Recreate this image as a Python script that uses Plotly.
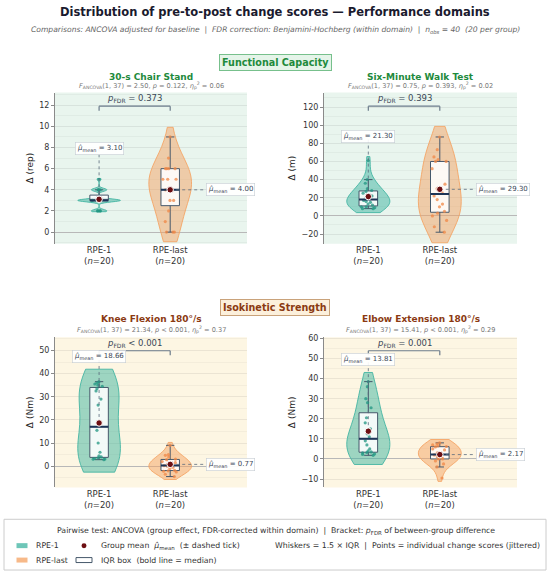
import numpy as np
import plotly.graph_objects as go

W, H = 550, 573

groups = ["RPE-1", "RPE-last"]
n_per_group = [20, 20]

# change scores (post - pre), one list per outcome and group
chair_rpe1 = [2, 2, 2, 2, 3, 3, 3, 3, 3, 3, 3, 3, 3, 3, 3, 4, 4, 4, 4, 5]
chair_rpelast = [0, 0, 0, 1, 2, 3, 3, 4, 4, 4, 4, 5, 5, 5, 6, 6, 6, 6, 7, 9]
walk_rpe1 = [8, 8, 9, 10, 10, 12, 13, 15, 16, 17, 19, 20, 22, 25, 27, 28, 30, 36, 40, 61]
walk_rpelast = [-18, -12, -5, 0, 3, 5, 10, 13, 18, 22, 26, 30, 35, 52, 60, 60, 62, 65, 73, 87]
knee_rpe1 = [2.8, 3.0, 3.1, 3.3, 3.6, 4.0, 4.5, 6.0, 10.0, 15.5, 18.5, 26.4, 29.0, 32.5,
             33.5, 34.5, 35.0, 35.5, 36.0, 36.5]
knee_rpelast = [-4.5, -3.5, -2.5, -2.2, -2.0, -1.8, -1.0, -0.5, 0.0, 0.2, 0.4, 0.8, 1.5, 2.0,
                2.8, 3.0, 4.0, 4.7, 5.0, 9.0]
elbow_rpe1 = [1.8, 2.2, 2.5, 3.0, 3.2, 3.5, 4.0, 5.0, 7.0, 9.0, 11.0, 12.5, 15.0, 18.0,
              20.5, 25.5, 28.0, 30.0, 36.0, 38.5]
elbow_rpelast = [-9.5, -4.0, -2.5, -1.0, 0.0, 0.0, 0.5, 0.8, 1.0, 2.0, 2.4, 3.0, 4.5, 5.0,
                 6.0, 6.2, 6.5, 7.0, 7.5, 8.0]

outcomes = ["30-s Chair Stand", "Six-Minute Walk Test", "Knee Flexion 180°/s", "Elbow Extension 180°/s"]
units = ["rep", "m", "Nm", "Nm"]
f_values = [2.50, 0.75, 21.34, 15.41]
p_values = ["= 0.122", "= 0.393", "< 0.001", "< 0.001"]
eta_p2 = [0.06, 0.02, 0.37, 0.29]
p_fdr = ["= 0.373", "= 0.393", "< 0.001", "= 0.001"]
domains = ["Functional Capacity", "Isokinetic Strength"]

data = [
    [chair_rpe1, chair_rpelast],
    [walk_rpe1, walk_rpelast],
    [knee_rpe1, knee_rpelast],
    [elbow_rpe1, elbow_rpelast],
]

# axis settings per panel
ylims = [(-1.1, 13.2), (-30.7, 136), (-9.2, 55.7), (-14.2, 60.6)]
dticks = [2, 20, 10, 10]
label_frac = [0.63, 0.71, 0.87, 0.85]   # height of the RPE-1 mean label in the panel

# styles
violin_fill = ["rgba(61,179,160,0.5)", "rgba(244,162,97,0.5)"]
violin_line = ["rgba(61,179,160,0.85)", "rgba(244,162,97,0.85)"]
point_col = ["rgba(32,150,130,0.75)", "rgba(240,135,70,0.75)"]
box_line = "#46586b"
median_col = "#1d3557"
mean_col = "#6d0f12"
label_col = "#3a4656"
panel_bg = ["#e9f5ee", "#fdf6e3"]
title_col = ["#1e8a3c", "#8b3a12"]
dom_bg = ["#e5f4e9", "#fcf0dc"]
dom_border = ["#77c08c", "#c9a27a"]
FONT = "DejaVu Sans"

col_px = [(55, 247), (324, 517)]
row_px = [(90, 242), (336, 487)]
title_px = [74, 318]
stat_px = [83, 328]
dom_px = [60, 306]


def px(p):
    return p / W


def py(p):
    return 1 - p / H


def kde_bw(vals):
    # silverman bandwidth (falls back to sd when the IQR is zero), a bit smoothed
    v = np.asarray(vals, dtype=float)
    iqr = np.percentile(v, 75) - np.percentile(v, 25)
    s = np.std(v, ddof=1)
    a = min(s, iqr / 1.349) if iqr > 0 else s
    return 1.3 * 1.059 * a * len(v) ** -0.2


fig = go.Figure()
layout = {}
shapes = []
annotations = []

for k in range(4):
    r, c = k // 2, k % 2
    xa = "x" if k == 0 else f"x{k + 1}"
    ya = "y" if k == 0 else f"y{k + 1}"
    xname = "xaxis" if k == 0 else f"xaxis{k + 1}"
    yname = "yaxis" if k == 0 else f"yaxis{k + 1}"
    lo, hi = ylims[k]

    layout[xname] = dict(domain=[px(col_px[c][0]), px(col_px[c][1])], range=[-0.62, 2.08],
                         anchor=ya, tickvals=[0, 1],
                         ticktext=[f"{g}<br>(<i>n</i>={n})" for g, n in zip(groups, n_per_group)],
                         showgrid=False, zeroline=False, showline=False, ticks="",
                         tickfont=dict(size=8.5, color="#333"))
    layout[yname] = dict(domain=[py(row_px[r][1]), py(row_px[r][0])], range=[lo, hi],
                         anchor=xa, dtick=dticks[k], showgrid=True, gridcolor="rgba(0,0,0,0.07)",
                         minor=dict(dtick=dticks[k] / 2, showgrid=True, gridcolor="rgba(0,0,0,0.035)"),
                         zeroline=True, zerolinecolor="#b8b8b8", zerolinewidth=1,
                         showline=True, linecolor="#8a8a8a", ticks="outside", ticklen=3,
                         tickcolor="#8a8a8a", tickfont=dict(size=8, color="#333"),
                         title=dict(text=f"Δ ({units[k]})", font=dict(size=9, color="#222"), standoff=4))

    # panel background
    shapes.append(dict(type="rect", xref=f"{xa} domain", yref=f"{ya} domain", x0=0, x1=1, y0=0, y1=1,
                       fillcolor=panel_bg[r], line=dict(width=0), layer="below"))

    for i in range(2):
        vals = data[k][i]
        bw = kde_bw(vals)
        fig.add_trace(go.Violin(x0=i, y=vals, xaxis=xa, yaxis=ya, width=0.6, bandwidth=bw,
                                spanmode="manual", span=[min(vals) - 0.5 * bw, max(vals) + 0.5 * bw],
                                fillcolor=violin_fill[i], line=dict(color=violin_line[i], width=1),
                                points=False, box_visible=False, meanline_visible=False,
                                showlegend=False, hoverinfo="skip"))
        fig.add_trace(go.Box(x0=i, y=vals, xaxis=xa, yaxis=ya, width=0.26,
                             fillcolor="rgba(255,255,255,0.88)", line=dict(color=box_line, width=1),
                             whiskerwidth=0.45, boxpoints="all", jitter=1.0, pointpos=0,
                             marker=dict(size=3.2, color=point_col[i]), showlegend=False))
        med = float(np.median(vals))
        fig.add_trace(go.Scatter(x=[i - 0.13, i + 0.13], y=[med, med], xaxis=xa, yaxis=ya,
                                 mode="lines", line=dict(color=median_col, width=2), showlegend=False))

        mean = float(np.mean(vals))
        label = f"<i>μ̂</i><sub>mean</sub> = {mean:.2f}"
        if i == 0:
            ly = lo + label_frac[k] * (hi - lo)
            fig.add_trace(go.Scatter(x=[0, 0], y=[mean, ly], xaxis=xa, yaxis=ya, mode="lines",
                                     line=dict(color="#5a6b7c", width=0.8, dash="dot"), showlegend=False))
            annotations.append(dict(x=0, y=ly, xref=xa, yref=ya, xanchor="center", yanchor="middle",
                                    text=label, showarrow=False,
                                    font=dict(size=7, color=label_col), bgcolor="rgba(255,255,255,0.92)",
                                    bordercolor="#c5ccd3", borderwidth=0.6, borderpad=1.5))
        else:
            fig.add_trace(go.Scatter(x=[1, 1.5], y=[mean, mean], xaxis=xa, yaxis=ya, mode="lines",
                                     line=dict(color="#5a6b7c", width=0.8, dash="dot"), showlegend=False))
            annotations.append(dict(x=1.5, y=mean, xref=xa, yref=ya, xanchor="left", yanchor="middle",
                                    text=label, showarrow=False, font=dict(size=7, color=label_col),
                                    bgcolor="rgba(255,255,255,0.92)", bordercolor="#c5ccd3",
                                    borderwidth=0.6, borderpad=1.5))
        fig.add_trace(go.Scatter(x=[i], y=[mean], xaxis=xa, yaxis=ya, mode="markers",
                                 marker=dict(size=6.5, color=mean_col, line=dict(color="white", width=1)),
                                 showlegend=False))

    # p_FDR bracket
    for x0, y0, x1, y1 in [(0, 0.88, 0, 0.91), (0, 0.91, 1, 0.91), (1, 0.91, 1, 0.88)]:
        shapes.append(dict(type="line", xref=xa, yref=f"{ya} domain", x0=x0, x1=x1, y0=y0, y1=y1,
                           line=dict(color="#6b7b8b", width=1.2)))
    annotations.append(dict(x=0.5, y=0.91, xref=xa, yref=f"{ya} domain", xanchor="center", yanchor="bottom",
                            text=f"<i>p</i><sub>FDR</sub> {p_fdr[k]}", showarrow=False,
                            font=dict(size=8.5, color=label_col)))

    # panel title and ANCOVA line
    annotations.append(dict(x=0.5, y=py(title_px[r]), xref=f"{xa} domain", yref="paper",
                            xanchor="center", yanchor="middle",
                            text=f"<b>{outcomes[k]}</b>", showarrow=False,
                            font=dict(size=9, color=title_col[r])))
    annotations.append(dict(x=0.5, y=py(stat_px[r]), xref=f"{xa} domain", yref="paper",
                            xanchor="center", yanchor="middle",
                            text=(f"<i>F</i><sub>ANCOVA</sub>(1, 37) = {f_values[k]:.2f}, "
                                  f"<i>p</i> {p_values[k]}, <i>η</i><sub>p</sub><sup>2</sup> = {eta_p2[k]:.2f}"),
                            showarrow=False, font=dict(size=6.6, color="#777")))

# domain labels
for r in range(2):
    annotations.append(dict(x=0.5, y=py(dom_px[r]), xref="paper", yref="paper",
                            xanchor="center", yanchor="middle",
                            text=f"<b>{domains[r]}</b>", showarrow=False,
                            font=dict(size=9.6, color=title_col[r]), bgcolor=dom_bg[r],
                            bordercolor=dom_border[r], borderwidth=1, borderpad=2))

# main title + subtitle
annotations.append(dict(x=0.5, y=py(9), xref="paper", yref="paper", showarrow=False,
                        xanchor="center", yanchor="middle",
                        text="<b>Distribution of pre-to-post change scores — Performance domains</b>",
                        font=dict(size=11.5, color="#1a1a2e")))
annotations.append(dict(x=0.5, y=py(27), xref="paper", yref="paper", showarrow=False,
                        xanchor="center", yanchor="middle",
                        text=("<i>Comparisons: ANCOVA adjusted for baseline \u00a0|\u00a0 FDR correction: "
                              "Benjamini-Hochberg (within domain) \u00a0|\u00a0 n<sub>obs</sub> = 40 "
                              "\u00a0(20 per group)</i>"),
                        font=dict(size=7.6, color="#666")))

# legend box (drawn by hand)
shapes.append(dict(type="rect", xref="paper", yref="paper", x0=px(4), x1=px(546), y0=py(570), y1=py(519),
                   fillcolor="white", line=dict(color="#cccccc", width=1)))
shapes.append(dict(type="rect", xref="paper", yref="paper", x0=px(16.5), x1=px(27.5), y0=py(548), y1=py(543),
                   fillcolor="rgba(61,179,160,0.75)", line=dict(width=0)))
shapes.append(dict(type="rect", xref="paper", yref="paper", x0=px(16.5), x1=px(27.5), y0=py(562.5), y1=py(557.5),
                   fillcolor="rgba(244,162,97,0.75)", line=dict(width=0)))
shapes.append(dict(type="circle", xref="paper", yref="paper", x0=px(81.5), x1=px(86.5), y0=py(548), y1=py(543),
                   fillcolor=mean_col, line=dict(width=0)))
shapes.append(dict(type="rect", xref="paper", yref="paper", x0=px(76), x1=px(92), y0=py(562.5), y1=py(557.5),
                   fillcolor="white", line=dict(color=box_line, width=1)))

leg_font = dict(size=7.8, color="#333")
legend_texts = [
    (276, 531, "center", "Pairwise test: ANCOVA (group effect, FDR-corrected within domain) \u00a0|\u00a0 "
                         "Bracket: <i>p</i><sub>FDR</sub> of between-group difference"),
    (33.5, 545.5, "left", "RPE-1"),
    (98.7, 545.5, "left", "Group mean \u00a0<i>μ̂</i><sub>mean</sub> \u00a0(± dashed tick)"),
    (272.6, 545.5, "left", "Whiskers = 1.5 × IQR \u00a0|\u00a0 Points = individual change scores (jittered)"),
    (33.5, 560, "left", "RPE-last"),
    (98.7, 560, "left", "IQR box \u00a0(bold line = median)"),
]
for x, y, anchor, txt in legend_texts:
    annotations.append(dict(x=px(x), y=py(y), xref="paper", yref="paper", xanchor=anchor, yanchor="middle",
                            text=txt, showarrow=False, font=leg_font))

fig.update_layout(
    width=W, height=H,
    margin=dict(l=0, r=0, t=0, b=0),
    paper_bgcolor="white",
    plot_bgcolor="rgba(0,0,0,0)",
    font=dict(family=FONT, color="#333"),
    violinmode="overlay",
    boxmode="overlay",
    showlegend=False,
    shapes=shapes,
    annotations=annotations,
    **layout,
)

# page margin off so the 550x573 figure fills the window
fig.write_html("out.html", config={"displayModeBar": False},
               post_script="document.body.style.margin='0';")
